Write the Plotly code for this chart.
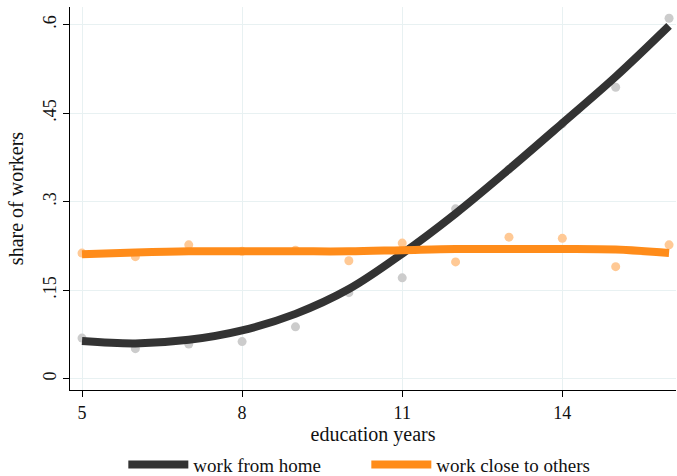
import plotly.graph_objects as go

years = [5, 6, 7, 8, 9, 10, 11, 12, 13, 14, 15, 16]

# observed shares (scatter)
home_obs = [0.069, 0.051, 0.059, 0.063, 0.088, 0.146, 0.171, 0.288, 0.355, 0.432, 0.494, 0.611]
close_obs = [0.213, 0.207, 0.227, 0.216, 0.218, 0.200, 0.230, 0.198, 0.240, 0.238, 0.190, 0.227]

# smoothed fits
home_fit = [0.064, 0.060, 0.066, 0.082, 0.110, 0.152, 0.212, 0.280, 0.355, 0.433, 0.512, 0.598]
close_fit = [0.211, 0.214, 0.216, 0.216, 0.216, 0.216, 0.218, 0.220, 0.220, 0.220, 0.219, 0.213]

y_ticks = [0, 0.15, 0.3, 0.45, 0.6]
y_labels = ['0', '.15', '.3', '.45', '.6']
x_ticks = [5, 8, 11, 14]

font = 'Liberation Serif'

fig = go.Figure()
fig.add_trace(go.Scatter(x=years, y=home_obs, mode='markers', showlegend=False,
                         marker=dict(color='#cccccc', size=9), cliponaxis=False))
fig.add_trace(go.Scatter(x=years, y=close_obs, mode='markers', showlegend=False,
                         marker=dict(color='#ffc995', size=9), cliponaxis=False))
fig.add_trace(go.Scatter(x=years, y=home_fit, mode='lines', name='work from home',
                         line=dict(color='#333333', width=8, shape='spline')))
fig.add_trace(go.Scatter(x=years, y=close_fit, mode='lines', name='work close to others',
                         line=dict(color='#ff8c1a', width=8, shape='spline')))

fig.update_layout(
    width=677, height=476,
    margin=dict(l=70, r=1, t=7, b=86, autoexpand=False),
    plot_bgcolor='white', paper_bgcolor='white',
    font=dict(family=font, size=17, color='#111111'),
    legend=dict(orientation='h', x=0.088, xanchor='left', y=-0.195, yanchor='middle',
                font=dict(size=19), itemwidth=60, entrywidth=168, entrywidthmode='pixels'),
)
fig.update_xaxes(
    range=[4.775, 16.13], tickvals=x_ticks, showline=True, linecolor='black', linewidth=1,
    ticks='outside', ticklen=6, tickcolor='black', showgrid=True, gridcolor='#e8f1f2',
    zeroline=False, automargin=False, tickfont=dict(size=18),
    title=dict(text='education years', standoff=0),
)
fig.update_yaxes(
    range=[-0.019, 0.630], tickvals=y_ticks, ticktext=y_labels, tickangle=-90,
    showline=True, linecolor='black', linewidth=1, ticks='outside', ticklen=6,
    tickcolor='black', showgrid=True, gridcolor='#e8f1f2', zeroline=False,
    automargin=False, tickfont=dict(size=18),
    title=dict(text='share of workers', standoff=10),
)

fig.write_html('out.html', config={'displayModeBar': False},
               post_script="document.body.style.margin='0';")
